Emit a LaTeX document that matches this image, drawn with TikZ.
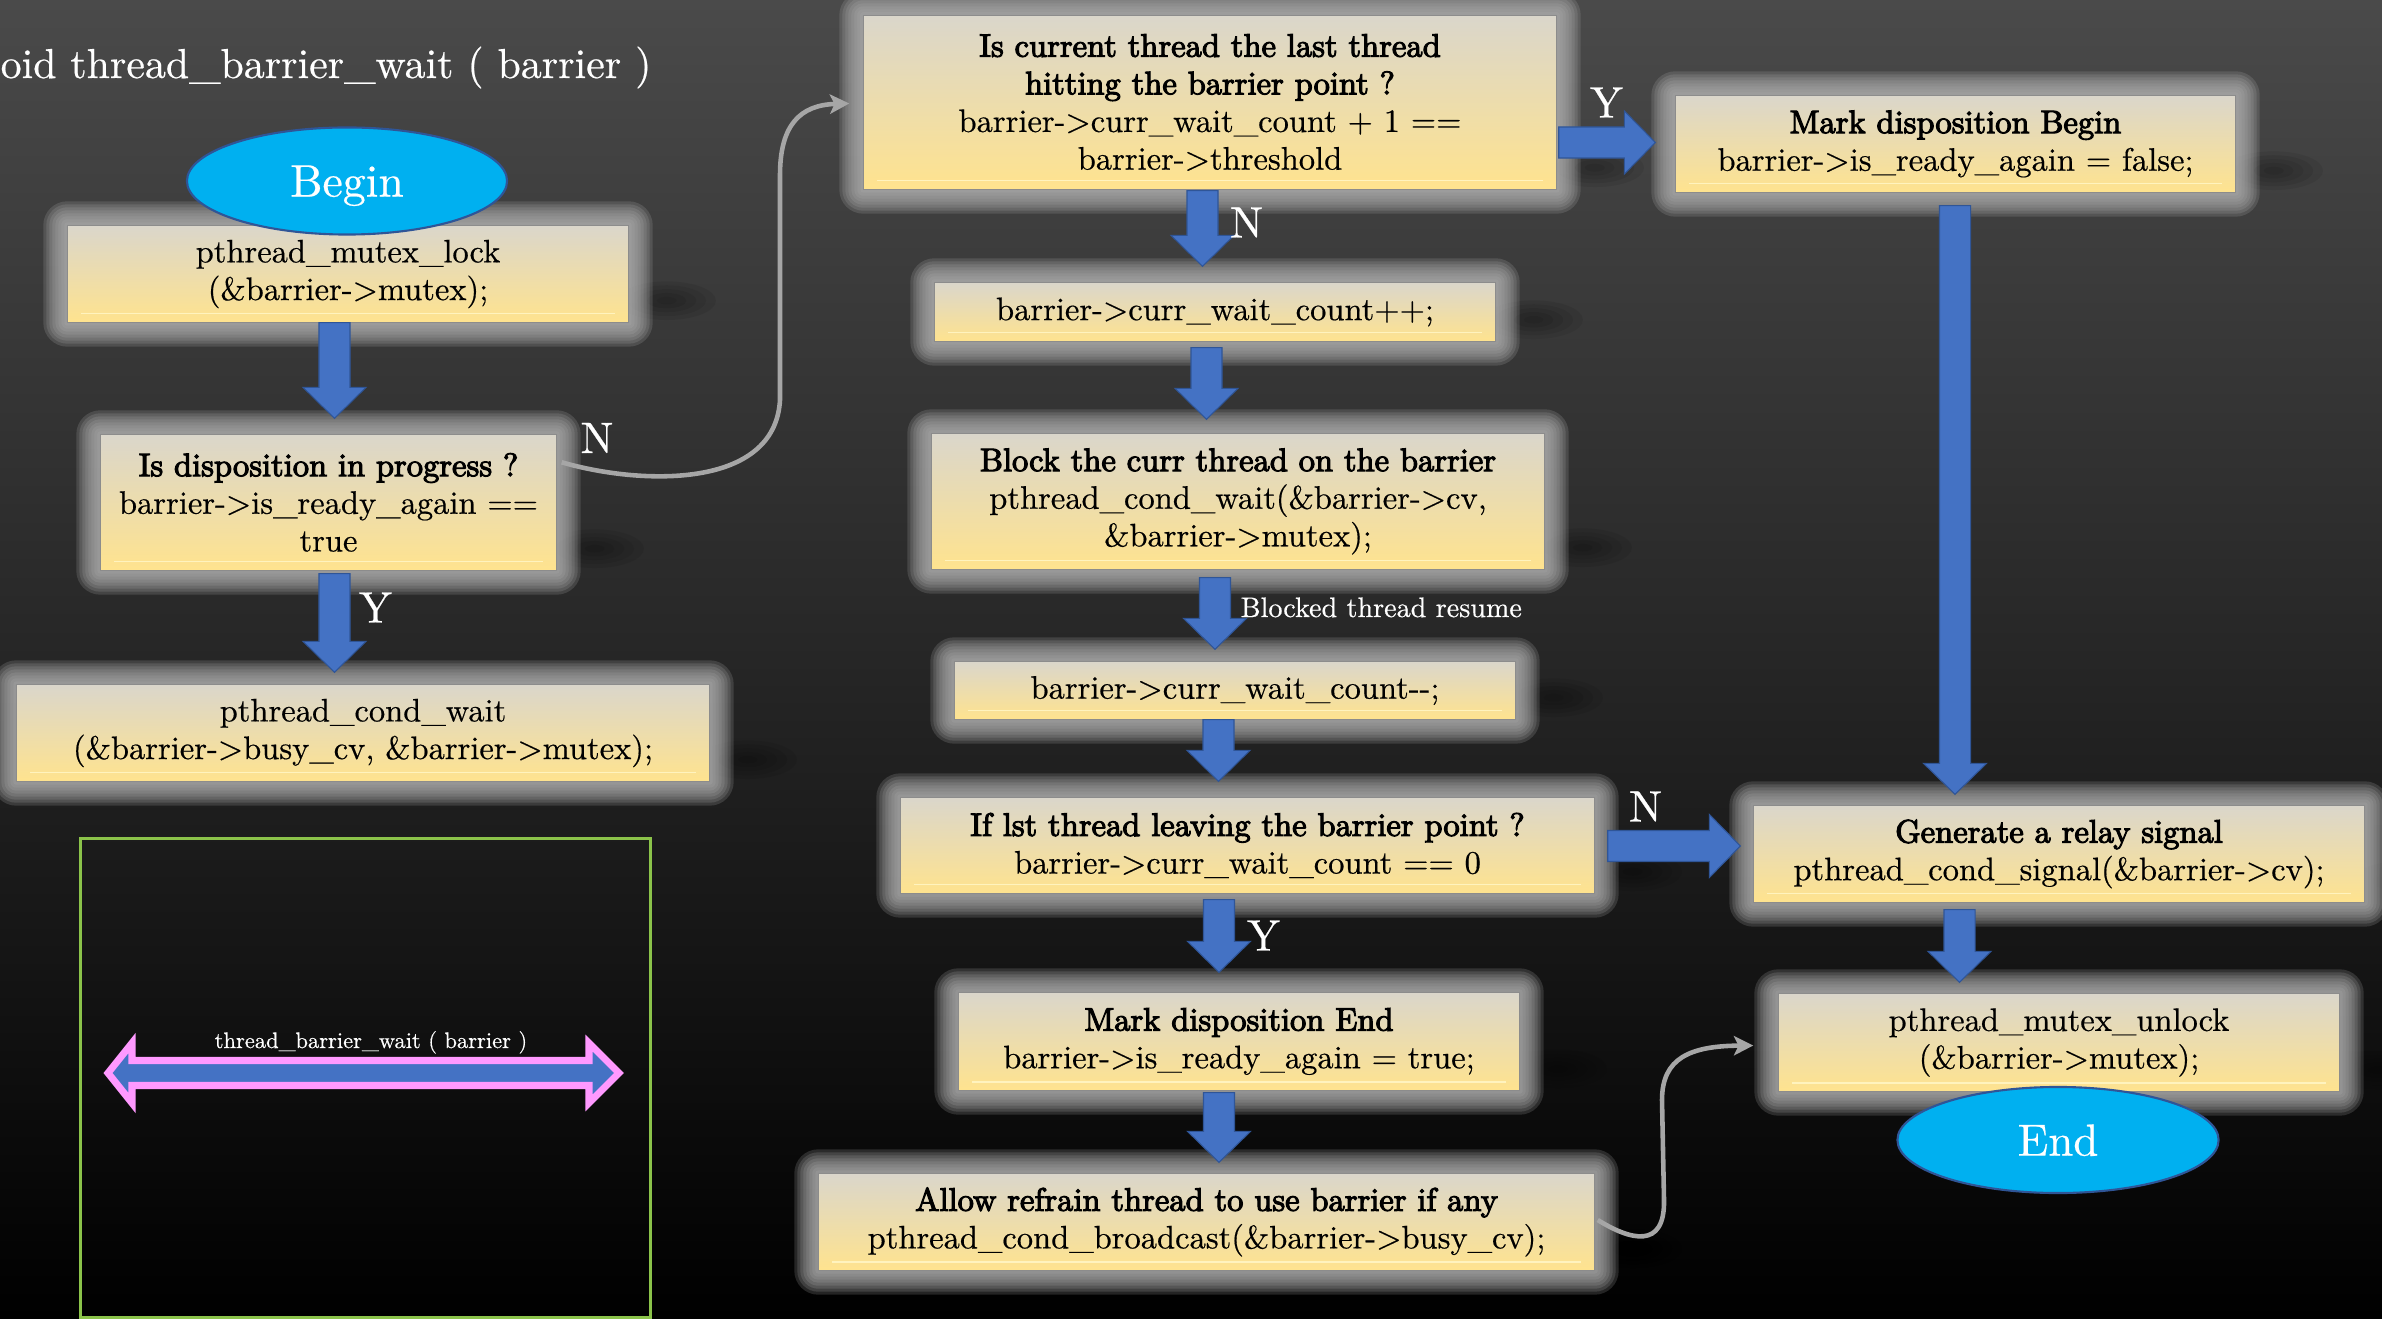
\documentclass[tikz,border=0pt]{standalone}
\usepackage{fontspec}
\usetikzlibrary{calc,shapes.geometric,arrows.meta}
\setmainfont{lmroman10-regular.otf}[FakeBold=0.5]
\newfontfamily\hd{lmroman10-regular.otf}[FakeBold=3.3]

\definecolor{bgtop}{HTML}{4A4A4A}
\definecolor{bgmid}{HTML}{262626}
\definecolor{bgbot}{HTML}{000000}
\definecolor{boxtop}{HTML}{DAD6CB}
\definecolor{boxbot}{HTML}{FFE38E}
\definecolor{boxedge}{HTML}{8C8C8C}
\definecolor{glowc}{HTML}{B0B0B0}
\definecolor{arrowblue}{HTML}{4472C4}
\definecolor{arrowedge}{HTML}{2F5597}
\definecolor{ovalfill}{HTML}{00B0F0}
\definecolor{ovaledge}{HTML}{2F5597}
\definecolor{curvegrey}{HTML}{A6A6A6}
\definecolor{framegreen}{HTML}{8BC34A}
\definecolor{pinkedge}{HTML}{FF99FF}
\definecolor{hiline}{HTML}{FFF3BE}

\pgfdeclarelayer{bg}
\pgfdeclarelayer{glow}
\pgfdeclarelayer{boxfill}
\pgfsetlayers{bg,glow,boxfill,main}

% block arrow geometry: shaft half width, head half width, head length
\def\bsw{4.41pt}\def\bhw{8.96pt}\def\bhl{8.8pt}

\newcommand\boxfont{\fontsize{9.25}{10.7}\selectfont}

\tikzset{
  procbox/.style={inner sep=0pt, align=center, font=\boxfont, text=black},
  boxshade/.style={top color=boxtop, bottom color=boxbot, draw=boxedge, line width=0.35pt},
  hilite/.style={draw=hiline, line width=0.45pt},
  blk/.style={fill=arrowblue, draw=arrowedge, line width=0.3pt, line join=miter},
  lbl/.style={text=white, inner sep=0pt, font=\fontsize{12.5}{14}\selectfont},
  startend/.style={ellipse, fill=ovalfill, draw=ovaledge, line width=0.6pt, text=white,
    inner sep=0pt, text depth=0pt, font=\fontsize{13}{15}\selectfont},
  curvec/.style={draw=curvegrey, line width=1.3pt, -{Stealth[length=5.5pt, width=5.5pt, inset=1.3pt]}},
}

% glow, side shadow, shaded face and bottom highlight of a process box
\newcommand\boxdecor[1]{%
  \begin{pgfonlayer}{glow}
    \foreach \gs in {1,...,5}{
      \fill[black, opacity=0.07] ($(#1.south east)+(38,-22)$) ellipse [x radius={\gs*2.8pt}, y radius={\gs*1.1pt}];
    }
    \foreach \gr in {3,6,...,24}{
      \pgfmathsetmacro\rc{\gr*0.2845}
      \fill[glowc, opacity=0.2, rounded corners=\rc pt]
        ($(#1.south west)+(-\gr,\gr)$) rectangle ($(#1.north east)+(\gr,-\gr)$);
    }
  \end{pgfonlayer}
  \begin{pgfonlayer}{boxfill}
    \draw[boxshade] (#1.south west) rectangle (#1.north east);
    \draw[hilite] ($(#1.south west)+(14,-9)$) -- ($(#1.south east)+(-14,-9)$);
  \end{pgfonlayer}}

% process box from its corners: name, x1, y1, x2, y2, text
\newcommand\pbox[6]{%
  \node[procbox, minimum width={(#4-#2)*0.01cm}, minimum height={(#5-#3)*0.01cm}]
    (#1) at ({(#2+#4)/2},{(#3+#5)/2}) {#6};
  \boxdecor{#1}}

% downward block arrow: from node, to node, x, gap at start, gap at tip
\newcommand\blkdown[5]{%
  \path[blk] let \p1=(#1.south), \p2=(#2.north), \p3=(#3,#4), \p4=(0,#5) in
    (\x3-\bsw,\y1+\y3) -- (\x3+\bsw,\y1+\y3) -- (\x3+\bsw,\y2-\y4+\bhl)
    -- (\x3+\bhw,\y2-\y4+\bhl) -- (\x3,\y2-\y4) -- (\x3-\bhw,\y2-\y4+\bhl)
    -- (\x3-\bsw,\y2-\y4+\bhl) -- cycle;}

% rightward block arrow: from node, to node, y, gap at start, gap at tip
\newcommand\blkright[5]{%
  \path[blk] let \p1=(#1.east), \p2=(#2.west), \p3=(#4,#3), \p4=(#5,0) in
    (\x1+\x3,\y3-\bsw) -- (\x1+\x3,\y3+\bsw) -- (\x2-\x4-\bhl,\y3+\bsw)
    -- (\x2-\x4-\bhl,\y3+\bhw) -- (\x2-\x4,\y3) -- (\x2-\x4-\bhl,\y3-\bhw)
    -- (\x2-\x4-\bhl,\y3-\bsw) -- cycle;}

\begin{document}
\begin{tikzpicture}[x=0.01cm, y=-0.01cm]
\useasboundingbox (0,0) rectangle (2382,1319);
\begin{pgfonlayer}{bg}
  \shade[top color=bgtop, bottom color=bgbot, middle color=bgmid] (0,0) rectangle (2382,1319);
\end{pgfonlayer}

% title
\node[anchor=base west, inner sep=0pt, text=white, font=\fontsize{11.9}{14}\selectfont] (title) at (0,78)
  {oid thread\_barrier\_wait ( barrier )};

% left column
\pbox{b1}{68}{226}{628}{322}
  {pthread\_mutex\_lock\\(\&barrier->mutex);}
\pbox{b2}{101}{435}{556}{570}
  {\hd Is disposition in progress ?\\\rmfamily barrier->is\_ready\_again ==\\\rmfamily true}
\pbox{b3}{17}{685}{709}{781}
  {pthread\_cond\_wait\\(\&barrier->busy\_cv, \&barrier->mutex);}

% middle column
\pbox{b4}{864}{16}{1556}{189}
  {\hd Is current thread the last thread\\\hd hitting the barrier point ?\\\rmfamily barrier->curr\_wait\_count + 1 ==\\\rmfamily barrier->threshold}
\pbox{b6}{935}{283}{1495}{341}
  {barrier->curr\_wait\_count++;}
\pbox{b7}{932}{434}{1544}{569}
  {\hd Block the curr thread on the barrier\\\rmfamily pthread\_cond\_wait(\&barrier->cv,\\\rmfamily \&barrier->mutex);}
\pbox{b8}{955}{662}{1515}{719}
  {barrier->curr\_wait\_count-{}-;}
\pbox{b9}{901}{798}{1594}{893}
  {\hd If lst thread leaving the barrier point ?\\\rmfamily barrier->curr\_wait\_count == 0}
\pbox{b10}{959}{993}{1519}{1090}
  {\hd Mark disposition End\\\rmfamily barrier->is\_ready\_again = true;}
\pbox{b13}{819}{1174}{1594}{1270}
  {\hd Allow refrain thread to use barrier if any\\\rmfamily pthread\_cond\_broadcast(\&barrier->busy\_cv);}

% right column
\pbox{b5}{1676}{96}{2235}{192}
  {\hd Mark disposition Begin\\\rmfamily barrier->is\_ready\_again = false;}
\pbox{b11}{1754}{806}{2364}{902}
  {\hd Generate a relay signal\\\rmfamily pthread\_cond\_signal(\&barrier->cv);}
\pbox{b12}{1779}{994}{2339}{1091}
  {pthread\_mutex\_unlock\\(\&barrier->mutex);}

% terminals
\node[startend, minimum width=3.2cm, minimum height=1.07cm] (begin) at (347,181) {Begin};
\node[startend, minimum width=3.21cm, minimum height=1.06cm, font=\fontsize{12.8}{15}\selectfont] (end) at (2058,1140) {End};

% block arrows
\blkdown{b1}{b2}{334.5}{0}{16}
\blkdown{b2}{b3}{334.5}{3}{12}
\blkdown{b4}{b6}{1202.5}{1}{16}
\blkdown{b6}{b7}{1206.5}{6}{14}
\blkdown{b7}{b8}{1215}{8}{12}
\blkdown{b8}{b9}{1218.5}{0}{16}
\blkdown{b9}{b10}{1219}{6}{20}
\blkdown{b10}{b13}{1219}{2}{11}
\blkdown{b11}{b12}{1959.5}{7}{11}
\blkdown{b5}{b11}{1955}{13}{11}
\blkright{b4}{b5}{142.5}{2}{20}
\blkright{b9}{b11}{846}{13}{13}

% branch labels
\node[lbl] (n1) at (597,438) {N};
\node[lbl] (y1) at (375.5,607.5) {Y};
\node[lbl] (y2) at (1606.5,102.5) {Y};
\node[lbl] (n2) at (1246.5,222.5) {N};
\node[lbl] (n3) at (1645.5,806.5) {N};
\node[lbl] (y3) at (1263.5,935.5) {Y};
\node[anchor=base west, inner sep=0pt, text=white, font=\fontsize{8.0}{10}\selectfont] (resume) at (1240,617)
  {Blocked thread resume};

% curved connectors
\draw[curvec] ($(b2.north east)+(5,28)$) .. controls (640,485) and (775,490) .. (780,400)
  -- (780,175) .. controls (780,125) and (800,105) .. ($(b4.west)+(-14,1)$);
\draw[curvec] ($(b13.east)+(3,-2)$) .. controls (1630,1240) and (1665,1250) .. (1664,1200)
  -- (1662,1100) .. controls (1662,1058) and (1690,1046) .. ($(b12.west)+(-25,3)$);

% legend frame with the double arrow
\node[draw=framegreen, line width=0.85pt, inner sep=0pt, minimum width=5.69cm, minimum height=4.78cm] (frame) at (365.5,1078) {};
\draw[draw=pinkedge, fill=arrowblue, line width=2pt, miter limit=10]
  (108,1073) -- (132,1043) -- (132,1060.5) -- (589,1060.5) -- (589,1043) -- (619,1073)
  -- (589,1103) -- (589,1085.5) -- (132,1085.5) -- (132,1103) -- cycle;
\node[anchor=base, inner sep=0pt, text=white, font=\fontsize{6.4}{8}\selectfont] (dalbl) at (371,1048)
  {thread\_barrier\_wait ( barrier )};
\end{tikzpicture}
\end{document}
